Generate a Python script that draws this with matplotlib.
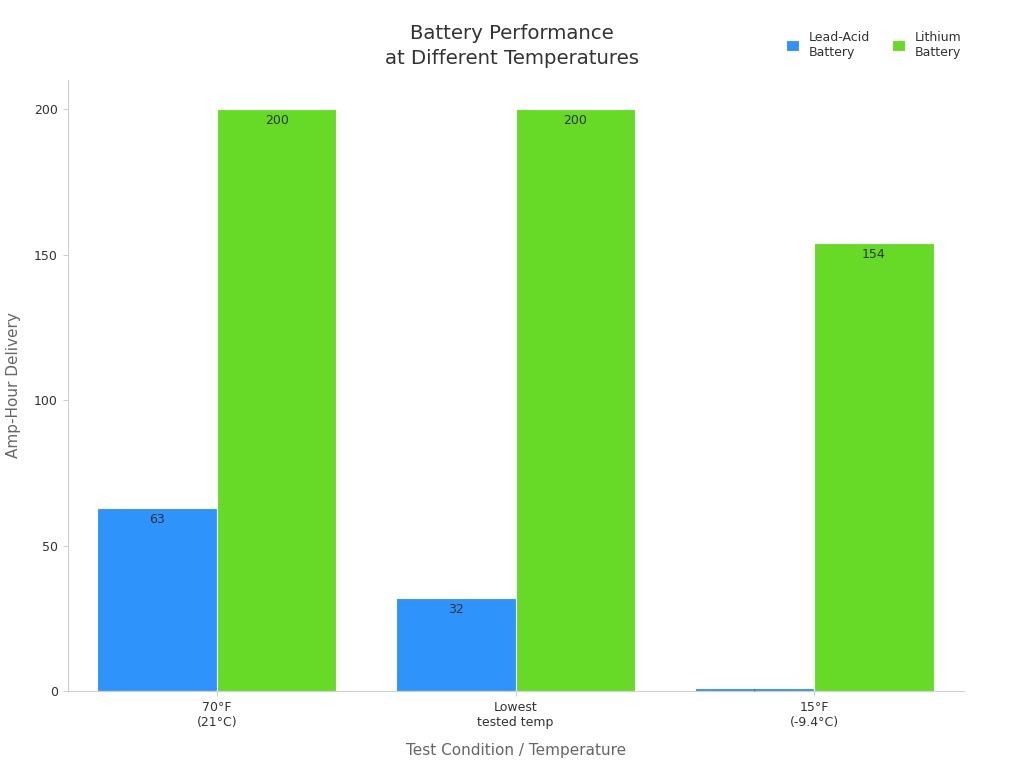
import numpy as np
import matplotlib.pyplot as plt

categories = ['70°F\n(21°C)', 'Lowest\ntested temp', '15°F\n(-9.4°C)']
lead_acid = [63, 32, 1]
lithium = [200, 200, 154]

blue = '#2E93FA'
green = '#66DA26'
grey = '#D0D0D0'

fig, ax = plt.subplots(figsize=(10.24, 7.68), dpi=100)
fig.subplots_adjust(left=0.066, right=0.941, top=0.896, bottom=0.1)

x = np.arange(len(categories))
w = 0.4
b1 = ax.bar(x - w / 2, lead_acid, w, color=blue, edgecolor='white', linewidth=0.8, label='Lead-Acid\nBattery')
b2 = ax.bar(x + w / 2, lithium, w, color=green, edgecolor='white', linewidth=0.8, label='Lithium\nBattery')

for bars, vals in ((b1, lead_acid), (b2, lithium)):
    for rect, v in zip(bars, vals):
        fs = 9 if v > 5 else 2
        ax.text(rect.get_x() + rect.get_width() / 2, v - (1.8 if v > 5 else 0.2), str(v),
                ha='center', va='top', fontsize=fs, color='#333333')

ax.set_xlim(-0.5, 2.5)
ax.set_ylim(0, 210)
ax.set_yticks([0, 50, 100, 150, 200])
ax.set_xticks(x)
ax.set_xticklabels(categories, fontsize=9, color='#333333')
ax.tick_params(axis='y', labelsize=9, colors='#333333')
ax.tick_params(axis='both', color=grey)
for s in ('top', 'right'):
    ax.spines[s].set_visible(False)
for s in ('left', 'bottom'):
    ax.spines[s].set_color(grey)

ax.set_xlabel('Test Condition / Temperature', fontsize=11, color='#666666', labelpad=10)
ax.set_ylabel('Amp-Hour Delivery', fontsize=11, color='#666666', labelpad=9)
fig.text(0.5, 0.94, 'Battery Performance\nat Different Temperatures', fontsize=14.2,
         color='#333333', ha='center', va='center', linespacing=1.38)

ax.legend(loc='center', bbox_to_anchor=(0.9, 1.057), ncol=2, frameon=False,
          fontsize=9, handlelength=1.0, handleheight=1.0, columnspacing=1.8, labelcolor='#333333')

fig.savefig('out.png', dpi=100)
